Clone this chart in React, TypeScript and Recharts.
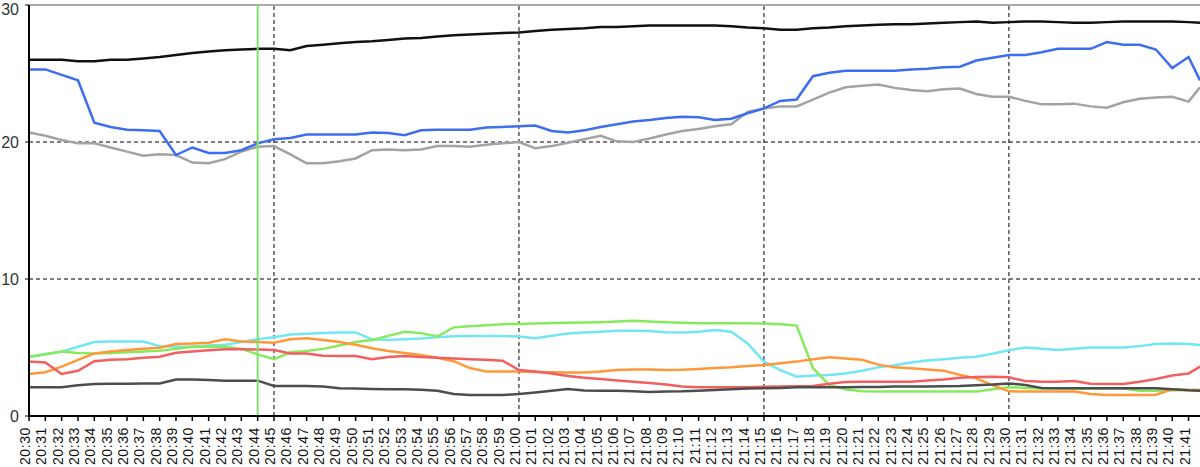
import { LineChart, Line, XAxis, YAxis, ReferenceLine } from 'recharts';

const timeLabels = [
  '20:30', '20:31', '20:32', '20:33', '20:34', '20:35', '20:36', '20:37', '20:38', '20:39',
  '20:40', '20:41', '20:42', '20:43', '20:44', '20:45', '20:46', '20:47', '20:48', '20:49',
  '20:50', '20:51', '20:52', '20:53', '20:54', '20:55', '20:56', '20:57', '20:58', '20:59',
  '21:00', '21:01', '21:02', '21:03', '21:04', '21:05', '21:06', '21:07', '21:08', '21:09',
  '21:10', '21:11', '21:12', '21:13', '21:14', '21:15', '21:16', '21:17', '21:18', '21:19',
  '21:20', '21:21', '21:22', '21:23', '21:24', '21:25', '21:26', '21:27', '21:28', '21:29',
  '21:30', '21:31', '21:32', '21:33', '21:34', '21:35', '21:36', '21:37', '21:38', '21:39',
  '21:40', '21:41',
];

// one sample per minute, plus the last partial sample at the right edge
const sampleMinutes = [...timeLabels.map((_, i) => i), 71.7];

const blackLine = [
  26.0, 26.0, 26.0, 25.9, 25.9, 26.0, 26.0, 26.1, 26.2, 26.35,
  26.5, 26.6, 26.7, 26.75, 26.8, 26.8, 26.7, 27.0, 27.1, 27.2,
  27.3, 27.35, 27.45, 27.55, 27.6, 27.7, 27.8, 27.85, 27.9, 27.95,
  28.0, 28.1, 28.2, 28.25, 28.3, 28.4, 28.4, 28.45, 28.5, 28.5,
  28.5, 28.5, 28.5, 28.45, 28.35, 28.3, 28.2, 28.2, 28.3, 28.35,
  28.45, 28.5, 28.55, 28.6, 28.6, 28.65, 28.7, 28.75, 28.8, 28.7,
  28.75, 28.8, 28.8, 28.75, 28.7, 28.7, 28.75, 28.8, 28.8, 28.8,
  28.8, 28.75, 28.7,
];

const blueLine = [
  25.3, 25.3, 24.9, 24.5, 21.4, 21.1, 20.9, 20.85, 20.8, 19.05,
  19.6, 19.2, 19.2, 19.4, 19.9, 20.2, 20.3, 20.55, 20.55, 20.55,
  20.55, 20.7, 20.65, 20.5, 20.85, 20.9, 20.9, 20.9, 21.05, 21.1,
  21.15, 21.2, 20.8, 20.7, 20.85, 21.1, 21.3, 21.5, 21.6, 21.75,
  21.85, 21.8, 21.6, 21.7, 22.1, 22.45, 23.0, 23.1, 24.8, 25.05,
  25.2, 25.2, 25.2, 25.2, 25.3, 25.35, 25.45, 25.5, 25.95, 26.15,
  26.35, 26.35, 26.55, 26.8, 26.8, 26.8, 27.3, 27.1, 27.1, 26.75,
  25.4, 26.2, 24.5,
];

const grayLine = [
  20.7, 20.45, 20.15, 19.9, 19.9, 19.6, 19.3, 19.0, 19.1, 19.05,
  18.5, 18.45, 18.75, 19.3, 19.65, 19.7, 19.1, 18.45, 18.45, 18.6,
  18.8, 19.4, 19.45, 19.4, 19.45, 19.7, 19.7, 19.65, 19.8, 19.9,
  20.0, 19.55, 19.7, 19.95, 20.2, 20.45, 20.05, 20.0, 20.25, 20.55,
  20.8, 20.95, 21.15, 21.3, 22.2, 22.45, 22.6, 22.6, 23.1, 23.6,
  24.0, 24.1, 24.2, 23.95, 23.8, 23.7, 23.85, 23.9, 23.5, 23.3,
  23.3, 23.0, 22.75, 22.75, 22.8, 22.6, 22.5, 22.9, 23.15, 23.25,
  23.3, 22.95, 24.0,
];

const cyanLine = [
  4.3, 4.5, 4.7, 5.05, 5.4, 5.43, 5.43, 5.43, 5.1, 5.06,
  5.06, 5.15, 5.2, 5.4, 5.6, 5.75, 5.95, 6.0, 6.05, 6.1,
  6.1, 5.6, 5.55, 5.6, 5.65, 5.75, 5.82, 5.84, 5.84, 5.84,
  5.8, 5.68, 5.85, 6.03, 6.1, 6.15, 6.22, 6.23, 6.2, 6.12,
  6.1, 6.15, 6.28, 6.15, 5.3, 3.97, 3.35, 2.87, 2.95, 3.0,
  3.1, 3.3, 3.55, 3.7, 3.9, 4.05, 4.15, 4.25, 4.33, 4.55,
  4.8, 5.0, 4.9, 4.82, 4.9, 5.0, 5.0, 5.0, 5.1, 5.25,
  5.3, 5.25, 5.18,
];

const greenLine = [
  4.33, 4.5, 4.7, 4.6, 4.57, 4.6, 4.65, 4.7, 4.77, 4.9,
  5.06, 5.06, 5.06, 4.9, 4.5, 4.14, 4.65, 4.75, 4.9, 5.15,
  5.4, 5.55, 5.85, 6.15, 6.05, 5.8, 6.47, 6.55, 6.62, 6.7,
  6.72, 6.75, 6.78, 6.8, 6.82, 6.85, 6.9, 6.95, 6.9, 6.85,
  6.8, 6.77, 6.77, 6.77, 6.77, 6.75, 6.7, 6.6, 3.5, 2.25,
  1.95, 1.8, 1.78, 1.78, 1.78, 1.78, 1.78, 1.78, 1.78, 1.95,
  2.1, 2.05, 2.0, 2.0, 2.0, 2.0, 2.0, 2.0, 1.85, 1.85,
  1.88, 1.9, 1.9,
];

const orangeLine = [
  3.07, 3.2, 3.6, 4.1, 4.57, 4.7, 4.82, 4.9, 4.99, 5.25,
  5.3, 5.35, 5.6, 5.43, 5.4, 5.35, 5.6, 5.67, 5.55, 5.4,
  5.2, 4.95, 4.75, 4.6, 4.45, 4.25, 4.0, 3.5, 3.24, 3.24,
  3.24, 3.22, 3.2, 3.18, 3.18, 3.25, 3.35, 3.4, 3.4, 3.36,
  3.38, 3.43, 3.5, 3.55, 3.65, 3.72, 3.85, 3.97, 4.15, 4.28,
  4.2, 4.1, 3.75, 3.55, 3.48, 3.4, 3.3, 3.0, 2.75, 2.26,
  1.8, 1.78, 1.78, 1.78, 1.78, 1.6, 1.53, 1.53, 1.53, 1.55,
  1.95, 1.9, 1.9,
];

const redLine = [
  3.97, 3.9, 3.07, 3.3, 4.0, 4.1, 4.15, 4.25, 4.33, 4.62,
  4.7, 4.8, 4.87, 4.87, 4.85, 4.82, 4.57, 4.57, 4.4, 4.38,
  4.38, 4.14, 4.3, 4.38, 4.3, 4.25, 4.2, 4.15, 4.1, 4.04,
  3.35, 3.25, 3.1, 2.92, 2.8, 2.7, 2.6, 2.5, 2.4, 2.3,
  2.15, 2.09, 2.09, 2.09, 2.09, 2.14, 2.15, 2.18, 2.19, 2.35,
  2.48, 2.5, 2.5, 2.5, 2.5, 2.6, 2.67, 2.8, 2.85, 2.87,
  2.82, 2.55, 2.5, 2.5, 2.55, 2.35, 2.33, 2.33, 2.5, 2.7,
  2.95, 3.1, 3.6,
];

const darkLine = [
  2.09, 2.09, 2.1, 2.25, 2.33, 2.35, 2.35, 2.38, 2.38, 2.67,
  2.67, 2.62, 2.58, 2.58, 2.58, 2.19, 2.19, 2.19, 2.15, 2.02,
  2.0, 1.97, 1.95, 1.95, 1.92, 1.85, 1.6, 1.53, 1.53, 1.53,
  1.6, 1.72, 1.85, 1.97, 1.87, 1.85, 1.85, 1.8, 1.75, 1.78,
  1.8, 1.85, 1.9, 1.95, 2.0, 2.02, 2.05, 2.09, 2.09, 2.1,
  2.1, 2.12, 2.12, 2.15, 2.15, 2.15, 2.17, 2.19, 2.25, 2.3,
  2.38, 2.26, 2.05, 2.02, 2.02, 2.02, 2.02, 2.02, 2.02, 2.02,
  1.95, 1.88, 1.85,
];

const yTicks = [0, 10, 20, 30];
const gridMinutes = [15, 30, 45, 60];
const gridValues = [10, 20];
const markerMinute = 14;

const rows = sampleMinutes.map((m, i) => ({
  m,
  black: blackLine[i],
  blue: blueLine[i],
  gray: grayLine[i],
  cyan: cyanLine[i],
  green: greenLine[i],
  orange: orangeLine[i],
  red: redLine[i],
  dark: darkLine[i],
}));

const series = [
  { key: 'gray', color: '#a3a3a3' },
  { key: 'blue', color: '#3d6ef0' },
  { key: 'black', color: '#111111' },
  { key: 'cyan', color: '#72e6f2' },
  { key: 'green', color: '#86ea5c' },
  { key: 'orange', color: '#ff9838' },
  { key: 'red', color: '#f25f5f' },
  { key: 'dark', color: '#4d4d4d' },
];

const FONT = '"Liberation Sans", Arial, sans-serif';

function TimeTick({ x, y, payload }: any) {
  const ty = y + 4;
  return (
    <text
      x={x + 1}
      y={ty}
      transform={`rotate(-90 ${x + 1} ${ty})`}
      textAnchor="end"
      fontSize={14}
      letterSpacing={0.6}
      fontFamily={FONT}
      fill="#111"
    >
      {timeLabels[payload.value]}
    </text>
  );
}

export default function App() {
  return (
    <div style={{ position: 'absolute', left: 0, top: 0, width: 1200, height: 467, background: '#fff' }}>
      <LineChart width={1200} height={467} data={rows} margin={{ top: 5, right: 0, left: 0, bottom: 0 }}>
        {gridMinutes.map((m) => (
          <ReferenceLine key={`gx-${m}`} x={m} stroke="#000" strokeWidth={1} strokeDasharray="4 3" />
        ))}
        {gridValues.map((v) => (
          <ReferenceLine key={`gy-${v}`} y={v} stroke="#000" strokeWidth={1} strokeDasharray="4 3" />
        ))}
        <ReferenceLine y={30} stroke="#555" strokeWidth={1} />
        <XAxis
          dataKey="m"
          type="number"
          domain={[0, 71.7]}
          ticks={timeLabels.map((_, i) => i)}
          interval={0}
          allowDataOverflow
          height={51}
          tickSize={5}
          axisLine={{ stroke: '#000', strokeWidth: 2 }}
          tickLine={{ stroke: '#000', strokeWidth: 1.5 }}
          tick={<TimeTick />}
        />
        <YAxis
          domain={[0, 30]}
          ticks={yTicks}
          width={29}
          tickSize={4}
          tickMargin={6}
          axisLine={{ stroke: '#000', strokeWidth: 2 }}
          tickLine={{ stroke: '#000' }}
          tick={{ fontSize: 16, fontFamily: FONT, fill: '#333' }}
        />
        {series.map((s) => (
          <Line
            key={s.key}
            dataKey={s.key}
            type="linear"
            stroke={s.color}
            strokeWidth={2.5}
            dot={false}
            isAnimationActive={false}
          />
        ))}
        <ReferenceLine x={markerMinute} stroke="#7fe36a" strokeWidth={2} />
      </LineChart>
    </div>
  );
}
